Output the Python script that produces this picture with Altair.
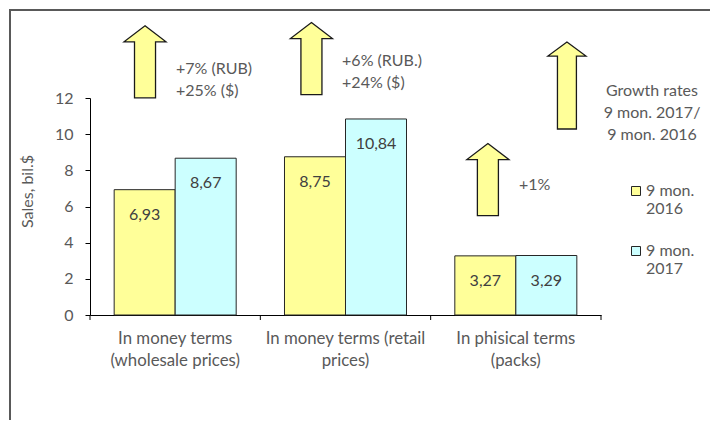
import altair as alt
import pandas as pd

# ---------------- data ----------------
categories = [
    "In money terms\n(wholesale prices)",
    "In money terms (retail\nprices)",
    "In phisical terms\n(packs)",
]
series = ["9 mon. 2016", "9 mon. 2017"]
values_2016 = [6.93, 8.75, 3.27]
values_2017 = [8.67, 10.84, 3.29]
y_ticks = [0, 2, 4, 6, 8, 10, 12]
growth_notes = ["+7% (RUB)\n+25% ($)", "+6% (RUB.)\n+24% ($)", "+1%"]
growth_caption = "Growth rates\n9 mon. 2017/\n9 mon. 2016"
y_title = "Sales, bil.$"

# ---------------- layout / style ----------------
W, H = 511, 217
FONT = "Lato"
FS = 16
GRAY = "#595959"
DARK = "#262626"
YELLOW = "#FFFF99"
CYAN = "#CCFFFF"

ARROW_A = "M0,-1L0.583,-0.556L0.292,-0.556L0.292,1L-0.292,1L-0.292,-0.556L-0.583,-0.556Z"
ARROW_B = "M0,-1L0.437,-0.678L0.218,-0.678L0.218,1L-0.218,1L-0.218,-0.678L-0.437,-0.678Z"

df = pd.DataFrame({
    "category": categories * 2,
    "series": [series[0]] * 3 + [series[1]] * 3,
    "value": values_2016 + values_2017,
})
cat_df = pd.DataFrame({"category": categories})

x_scale = alt.Scale(type="band", domain=categories, paddingInner=0, paddingOuter=0)
y_scale = alt.Scale(domain=[0, 12], nice=False, zero=True)
off_scale = alt.Scale(domain=series, paddingInner=0, paddingOuter=0.396)

x_axis = alt.Axis(
    title=None, labelExpr="split(datum.label, '\\n')", labelAngle=0, ticks=False,
    domainColor="#000000", domainWidth=1, labelColor=GRAY, labelFont=FONT,
    labelFontSize=16.8, labelLineHeight=22, labelPadding=15, labelLimit=400,
    labelOverlap=False, labelBaseline="top",
)
y_axis = alt.Axis(
    values=y_ticks, title=y_title, grid=False, domainColor="#000000", tickColor="#000000",
    tickSize=5, labelColor=GRAY, labelFont=FONT, labelFontSize=FS, labelPadding=12,
    labelOverlap=False,
    titleFont=FONT, titleFontSize=FS, titleFontWeight="normal", titleColor=GRAY,
    titleX=-63, titleY=93, titleAlign="center", titleBaseline="middle", titleAngle=270,
)


def xenc(band=0.5):
    return alt.X("category:N", scale=x_scale, sort=categories, bandPosition=band, axis=x_axis)


def yenc(field):
    return alt.Y(field, scale=y_scale, axis=y_axis)


legend = alt.Legend(
    title=None, orient="none", legendX=538, legendY=85, padding=0,
    symbolType="square", symbolSize=81,
    symbolStrokeColor=DARK, symbolStrokeWidth=1, symbolOpacity=1,
    labelExpr="[slice(datum.label, 0, 6), slice(datum.label, 7)]",
    labelFont=FONT, labelFontSize=FS, labelColor=GRAY,
    labelOffset=2, rowPadding=26, labelLimit=200,
)

bars = alt.Chart(df).mark_bar(stroke=DARK, strokeWidth=1).encode(
    x=xenc(),
    xOffset=alt.XOffset("series:N", scale=off_scale, sort=series),
    y=yenc("value:Q"),
    color=alt.Color("series:N", scale=alt.Scale(domain=series, range=[YELLOW, CYAN]), legend=legend),
)

labels = alt.Chart(df).transform_calculate(
    label="replace(format(datum.value, '.2f'), '.', ',')"
).mark_text(font=FONT, fontSize=FS, color="#404040", baseline="middle", dy=25).encode(
    x=xenc(),
    xOffset=alt.XOffset("series:N", scale=off_scale, sort=series),
    y=yenc("value:Q"),
    text="label:N",
)

# category separator ticks (Excel style, at band edges)
ticks_start = alt.Chart(cat_df).mark_rule(color="#000000", strokeWidth=1).encode(
    x=xenc(0), y=alt.value(H), y2=alt.value(H + 5)
)
ticks_end = alt.Chart(cat_df).transform_filter(
    alt.FieldEqualPredicate(field="category", equal=categories[-1])
).mark_rule(color="#000000", strokeWidth=1).encode(
    x=xenc(1), y=alt.value(H), y2=alt.value(H + 5)
)

# outer chart frame (top and left edges)
one = pd.DataFrame({"k": [0]})
frame_left = alt.Chart(one).mark_rule(color=GRAY, strokeWidth=2).encode(
    x=alt.value(-80), y=alt.value(-88), y2=alt.value(H + 110)
)
frame_top = alt.Chart(one).mark_rule(color=GRAY, strokeWidth=2).encode(
    y=alt.value(-88), x=alt.value(-81), x2=alt.value(W + 120)
)

# growth arrows and notes
arrows = []
arrow_specs = [
    (0, 0.323, 14.0, ARROW_A, 5184),
    (1, 0.30, 14.18, ARROW_A, 5184),
    (2, 0.336, 7.49, ARROW_A, 5184),
    (2, 0.80, 12.69, ARROW_B, 7569),
]
for ci, bp, yv, path, size in arrow_specs:
    d = pd.DataFrame({"category": [categories[ci]], "y": [yv]})
    arrows.append(
        alt.Chart(d).mark_point(shape=path, size=size, fill=YELLOW, fillOpacity=1,
                                stroke="#1a1a1a", strokeWidth=1.3, opacity=1).encode(
            x=xenc(bp), y=yenc("y:Q")
        )
    )

notes = []
note_specs = [
    (0, 0.505, 0, 13.63, growth_notes[0], "left"),
    (1, 0.48, 0, 14.05, growth_notes[1], "left"),
    (2, 0.518, 0, 7.19, growth_notes[2], "left"),
    (2, 1.0, 51, 12.41, growth_caption, "center"),
]
for ci, bp, dx, yv, txt, al in note_specs:
    d = pd.DataFrame({"category": [categories[ci]], "y": [yv], "t": [txt]})
    notes.append(
        alt.Chart(d).mark_text(font=FONT, fontSize=FS, color=GRAY, align=al, dx=dx,
                               baseline="middle", lineBreak="\n", lineHeight=22).encode(
            x=xenc(bp), y=yenc("y:Q"), text="t:N"
        )
    )

chart = alt.layer(
    bars, frame_left, frame_top, labels, ticks_start, ticks_end, *arrows, *notes
).properties(
    width=W, height=H,
    padding={"left": 82, "top": 90, "right": 109, "bottom": 105},
    autosize=alt.AutoSizeParams(type="none"),
    background="white",
).configure_view(stroke=None)

chart.save("out.html", embed_options={"renderer": "svg", "actions": False})
